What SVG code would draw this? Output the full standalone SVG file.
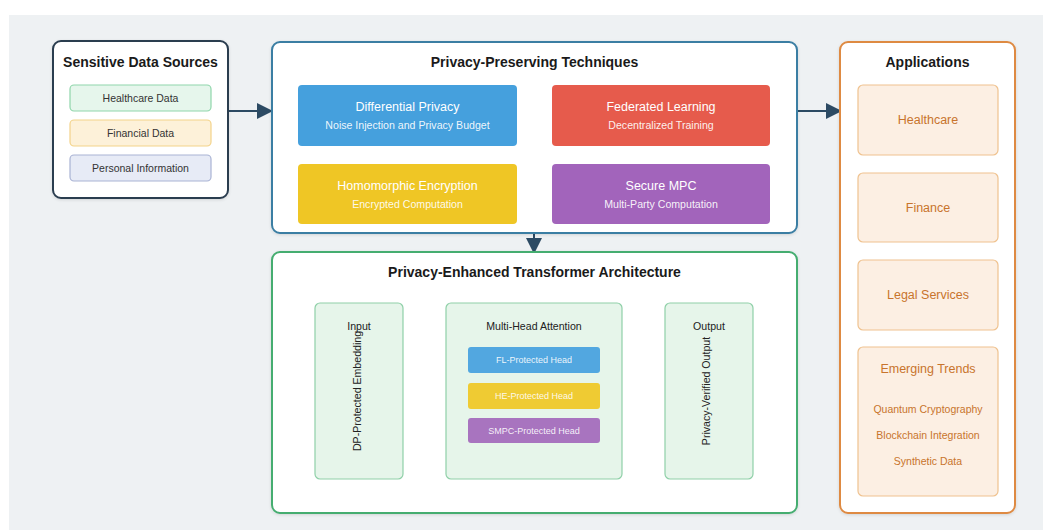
<svg xmlns="http://www.w3.org/2000/svg" width="1043" height="530" viewBox="0 0 1043 530">
<style>
.title{font-family:"Liberation Sans",Arial,sans-serif;font-weight:bold;font-size:14px;fill:#1a1a1a;text-anchor:middle}
.t{font-family:"Liberation Sans",Arial,sans-serif;text-anchor:middle}
.src{font-size:10.5px;fill:#333}
.tech{font-size:12.5px;fill:#fff}
.techs{font-size:10.6px;fill:#fff;fill-opacity:0.92}
.app{font-size:12.5px;fill:#c8742c}
.apps{font-size:10.5px;fill:#c8742c}
.pl{font-size:10.6px;fill:#222}
.head{font-size:9px;fill:#fff;fill-opacity:0.9}
.big{fill:#fff;stroke-width:2;filter:url(#sh)}
.appitem{fill:#fcefe3;stroke:#efc28f;stroke-width:1.2}
.panel{fill:#e6f5ea;stroke:#8fd0a8;stroke-width:1.2}
.conn{stroke:#2c4a63;stroke-width:2;fill:none}
</style>
<defs>
<filter id="sh" x="-5%" y="-5%" width="110%" height="110%">
<feDropShadow dx="0" dy="1" stdDeviation="1.5" flood-color="#000" flood-opacity="0.12"/>
</filter>
<marker id="ah" markerWidth="16" markerHeight="16" refX="14" refY="8" orient="auto" markerUnits="userSpaceOnUse">
<path d="M0,0 L16,8 L0,16 Z" fill="#2c4a63"/>
</marker>
</defs>
<rect x="0" y="0" width="1043" height="530" fill="#ffffff"/>
<rect x="9" y="15" width="1034" height="515" fill="#eef1f3"/>

<g id="connectors">
<line class="conn" x1="229" y1="111" x2="271" y2="111" marker-end="url(#ah)"/>
<line class="conn" x1="798" y1="111" x2="840" y2="111" marker-end="url(#ah)"/>
<line class="conn" x1="534" y1="234" x2="534" y2="252" marker-end="url(#ah)"/>
</g>

<g id="sources">
<rect class="big" x="53" y="41" width="175" height="157" rx="8" stroke="#2c3e50"/>
<text class="title" x="140.5" y="67">Sensitive Data Sources</text>
<rect x="70" y="85" width="141" height="26" rx="4" fill="#e6f6ec" stroke="#8fd6ab" stroke-width="1.2"/>
<text class="t src" x="140.5" y="102">Healthcare Data</text>
<rect x="70" y="120" width="141" height="26" rx="4" fill="#fdf1d9" stroke="#f3d38a" stroke-width="1.2"/>
<text class="t src" x="140.5" y="137">Financial Data</text>
<rect x="70" y="155" width="141" height="26" rx="4" fill="#e7ebf6" stroke="#a9b3d4" stroke-width="1.2"/>
<text class="t src" x="140.5" y="172">Personal Information</text>
</g>

<g id="techniques">
<rect class="big" x="272" y="42" width="525" height="191" rx="8" stroke="#3a7ea3"/>
<text class="title" x="534.5" y="67">Privacy-Preserving Techniques</text>
<g id="dp">
<rect x="298" y="85" width="219" height="61" rx="4" fill="#45a0dd"/>
<text class="t tech" x="407.5" y="111">Differential Privacy</text>
<text class="t techs" x="407.5" y="129">Noise Injection and Privacy Budget</text>
</g>
<g id="fl">
<rect x="552" y="85" width="218" height="61" rx="4" fill="#e65b4c"/>
<text class="t tech" x="661" y="111">Federated Learning</text>
<text class="t techs" x="661" y="129">Decentralized Training</text>
</g>
<g id="he">
<rect x="298" y="164" width="219" height="60" rx="4" fill="#efc625"/>
<text class="t tech" x="407.5" y="190">Homomorphic Encryption</text>
<text class="t techs" x="407.5" y="208">Encrypted Computation</text>
</g>
<g id="smpc">
<rect x="552" y="164" width="218" height="60" rx="4" fill="#a264bb"/>
<text class="t tech" x="661" y="190">Secure MPC</text>
<text class="t techs" x="661" y="208">Multi-Party Computation</text>
</g>
</g>

<g id="transformer">
<rect class="big" x="272" y="252" width="525" height="261" rx="8" stroke="#45ad70"/>
<text class="title" x="534.5" y="277">Privacy-Enhanced Transformer Architecture</text>
<g id="input">
<rect class="panel" x="315" y="303" width="88" height="176" rx="5"/>
<text class="t pl" x="359" y="330">Input</text>
<text class="t pl" transform="translate(361,391) rotate(-90)">DP-Protected Embedding</text>
</g>
<g id="mha">
<rect class="panel" x="446" y="303" width="176" height="176" rx="5"/>
<text class="t pl" x="534" y="330">Multi-Head Attention</text>
<rect x="468" y="347" width="132" height="26" rx="3" fill="#52a7e0"/>
<text class="t head" x="534" y="363">FL-Protected Head</text>
<rect x="468" y="383" width="132" height="26" rx="3" fill="#efcb33"/>
<text class="t head" x="534" y="399">HE-Protected Head</text>
<rect x="468" y="418" width="132" height="25" rx="3" fill="#a874bf"/>
<text class="t head" x="534" y="434">SMPC-Protected Head</text>
</g>
<g id="output">
<rect class="panel" x="665" y="303" width="88" height="176" rx="5"/>
<text class="t pl" x="709" y="330">Output</text>
<text class="t pl" transform="translate(710,391) rotate(-90)">Privacy-Verified Output</text>
</g>
</g>

<g id="applications">
<rect class="big" x="840" y="42" width="175" height="471" rx="8" stroke="#de8a42"/>
<text class="title" x="927.5" y="67">Applications</text>
<rect class="appitem" x="858" y="85" width="140" height="70" rx="5"/>
<text class="t app" x="928" y="124">Healthcare</text>
<rect class="appitem" x="858" y="173" width="140" height="69" rx="5"/>
<text class="t app" x="928" y="212">Finance</text>
<rect class="appitem" x="858" y="260" width="140" height="70" rx="5"/>
<text class="t app" x="928" y="299">Legal Services</text>
<rect class="appitem" x="858" y="347" width="140" height="149" rx="5"/>
<text class="t app" x="928" y="373">Emerging Trends</text>
<text class="t apps" x="928" y="413">Quantum Cryptography</text>
<text class="t apps" x="928" y="439">Blockchain Integration</text>
<text class="t apps" x="928" y="465">Synthetic Data</text>
</g>
</svg>
